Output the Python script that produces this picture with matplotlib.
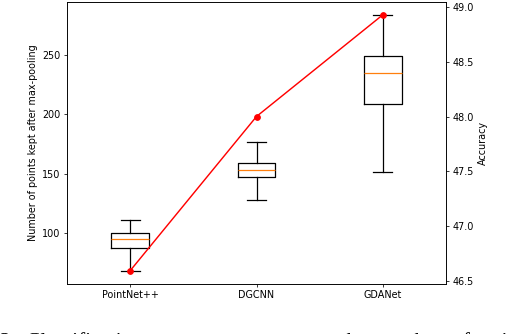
import matplotlib
matplotlib.use("Agg")
import matplotlib.pyplot as plt

# Box statistics (points kept after max-pooling)
models = ["PointNet++", "DGCNN", "GDANet"]
whisker_low = [68, 128, 151]
quart1 = [87, 147, 209]
medians = [95, 153, 235]
quart3 = [100, 159, 249]
whisker_high = [111, 177, 284]

# Accuracy per model (right axis)
accuracy = [46.59, 48.00, 48.93]

caption_left = "2.  Classification  accuracy"
caption_right = "versus  the  number  of  points"

dpi = 69
fig = plt.figure(figsize=(520 / dpi, 334 / dpi), dpi=dpi)
ax = fig.add_axes([67 / 520, 1 - 283.5 / 334, (446 - 67) / 520, (283.5 - 2) / 334])

stats = []
for i, name in enumerate(models):
    stats.append({
        "label": name,
        "whislo": whisker_low[i],
        "q1": quart1[i],
        "med": medians[i],
        "q3": quart3[i],
        "whishi": whisker_high[i],
        "fliers": [],
    })
positions = list(range(1, len(models) + 1))
lw = 1.3
ax.bxp(stats, positions=positions,
       boxprops={"linewidth": lw},
       whiskerprops={"linewidth": lw},
       capprops={"linewidth": lw},
       medianprops={"linewidth": lw, "color": "C1"})
ax.set_ylabel("Number of points kept after max-pooling")

ax2 = ax.twinx()
ax2.plot(positions, accuracy, "o-", color="red", markersize=6, linewidth=1.5)
ax2.set_ylabel("Accuracy")

# caption of the source figure, cut off by the bottom edge
cap_y = (334 - 347) / 334
fig.text(0.0, cap_y, caption_left, family="Liberation Serif",
         fontsize=22, va="baseline", ha="left")
fig.text(276 / 520, cap_y, caption_right, family="Liberation Serif",
         fontsize=22, va="baseline", ha="left")

fig.savefig("out.png", dpi=dpi)
